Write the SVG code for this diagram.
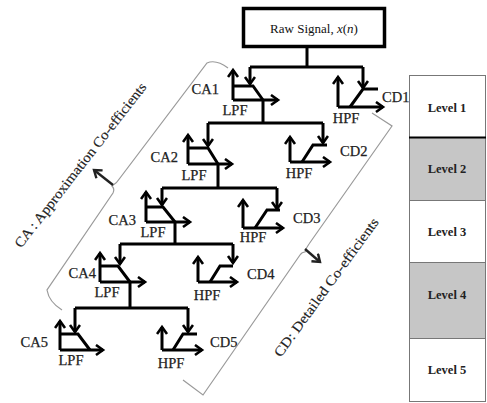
<svg xmlns="http://www.w3.org/2000/svg" width="487" height="403" viewBox="0 0 487 403">
<style>
.ln{fill:none;stroke:#000;stroke-width:3;stroke-linejoin:miter}
.ar{fill:none;stroke:#000;stroke-width:3;marker-end:url(#ah)}
.br{fill:none;stroke:#9a9a9a;stroke-width:1.2}
.t{font-family:"Liberation Serif","Times New Roman",serif;font-size:14.5px;fill:#222;stroke:#222;stroke-width:0.25}
.lv{font-family:"Liberation Serif","Times New Roman",serif;font-size:12.5px;font-weight:bold;fill:#222;text-anchor:middle}
.m{text-anchor:middle}
.e{text-anchor:end}
</style>
<defs>
<marker id="ah" markerUnits="userSpaceOnUse" markerWidth="14" markerHeight="14" refX="8" refY="6" orient="auto">
<path d="M1,1 L8,6 L1,11" fill="none" stroke="#000" stroke-width="2.6"/>
</marker>
<marker id="ahs" markerUnits="userSpaceOnUse" markerWidth="14" markerHeight="14" refX="8" refY="6" orient="auto">
<path d="M1,1 L8,6 L1,11" fill="none" stroke="#222" stroke-width="2.4"/>
</marker>
</defs>
<rect width="487" height="403" fill="#fff"/>

<g id="raw">
<rect x="243.5" y="8.5" width="141" height="38" fill="#fff" stroke="#000" stroke-width="3.5"/>
<text x="314" y="33" text-anchor="middle" style="font-family:'Liberation Serif','Times New Roman',serif;font-size:13px;fill:#111">Raw Signal, <tspan font-style="italic">x</tspan>(<tspan font-style="italic">n</tspan>)</text>
</g>

<g id="connectors">
<path class="ln" d="M307,47 V67 M250,67 H363"/>
<path class="ar" d="M250,67 V84"/>
<path class="ar" d="M363,67 V88"/>
<path class="ln" d="M263,100 V123 M208,123 H323"/>
<path class="ar" d="M208,123 V146"/>
<path class="ar" d="M323,123 V143"/>
<path class="ln" d="M218,164 V188 M162,188 H277"/>
<path class="ar" d="M162,188 V205"/>
<path class="ar" d="M277,188 V209"/>
<path class="ln" d="M175,222 V244 M120,244 H233"/>
<path class="ar" d="M120,244 V264"/>
<path class="ar" d="M233,244 V263"/>
<path class="ln" d="M130,282 V308 M75,308 H188"/>
<path class="ar" d="M75,308 V332"/>
<path class="ar" d="M188,308 V332"/>
</g>

<g id="lpf1">
<path class="ar" d="M233,100 V70"/><path class="ar" d="M233,100 H278"/>
<path class="ln" d="M233,86 H253 L263,100"/>
<text class="t m" x="235" y="115">LPF</text><text class="t e" x="219" y="94">CA1</text>
</g>
<g id="hpf1">
<path class="ar" d="M338,107 V77"/><path class="ar" d="M338,107 H383"/>
<path class="ln" d="M350,107 L363,89 H378"/>
<text class="t m" x="346" y="123">HPF</text><text class="t" x="382" y="102">CD1</text>
</g>

<g id="lpf2">
<path class="ar" d="M188,164 V135"/><path class="ar" d="M188,164 H232"/>
<path class="ln" d="M188,148 H208 L218,164"/>
<text class="t m" x="194" y="180">LPF</text><text class="t e" x="178" y="162">CA2</text>
</g>
<g id="hpf2">
<path class="ar" d="M290,162 V137"/><path class="ar" d="M290,162 H330"/>
<path class="ln" d="M302,162 L313,145 H327"/>
<text class="t m" x="299" y="178">HPF</text><text class="t" x="340" y="156">CD2</text>
</g>

<g id="lpf3">
<path class="ar" d="M146,222 V192"/><path class="ar" d="M146,222 H190"/>
<path class="ln" d="M146,207 H163 L175,222"/>
<text class="t m" x="153" y="237">LPF</text><text class="t e" x="136" y="225">CA3</text>
</g>
<g id="hpf3">
<path class="ar" d="M243,228 V200"/><path class="ar" d="M243,228 H283"/>
<path class="ln" d="M255,228 L267,210 H280"/>
<text class="t m" x="253" y="242">HPF</text><text class="t" x="293" y="223">CD3</text>
</g>

<g id="lpf4">
<path class="ar" d="M100,282 V253"/><path class="ar" d="M100,282 H145"/>
<path class="ln" d="M100,266 H118 L130,282"/>
<text class="t m" x="107" y="297">LPF</text><text class="t e" x="96" y="278">CA4</text>
</g>
<g id="hpf4">
<path class="ar" d="M198,282 V257"/><path class="ar" d="M198,282 H237"/>
<path class="ln" d="M210,282 L220,266 H233"/>
<text class="t m" x="207" y="300">HPF</text><text class="t" x="247" y="279">CD4</text>
</g>

<g id="lpf5">
<path class="ar" d="M60,350 V321"/><path class="ar" d="M60,350 H103"/>
<path class="ln" d="M60,334 H78 L90,350"/>
<text class="t m" x="71" y="365">LPF</text><text class="t e" x="48" y="347">CA5</text>
</g>
<g id="hpf5">
<path class="ar" d="M162,350 V327"/><path class="ar" d="M162,350 H202"/>
<path class="ln" d="M173,350 L183,334 H197"/>
<text class="t m" x="171" y="368">HPF</text><text class="t" x="210" y="347">CD5</text>
</g>

<g id="brace-ca">
<path class="br" d="M228,68 Q216,59 207,63 L120,178 Q117,183 112,186 Q115,189 113,193 L47,290 Q49,302 62,310"/>
<path d="M113,185 L94,170" fill="none" stroke="#222" stroke-width="2.4" marker-end="url(#ahs)"/>
<text class="t m" transform="translate(84,168) rotate(-52)" style="font-size:14px;stroke-width:0.15" textLength="205" lengthAdjust="spacingAndGlyphs">CA : Approximation Co-efficients</text>
</g>

<g id="brace-cd">
<path class="br" d="M372,113 L392,126 L309,244 Q306,248 305,252 Q302,252 300,255 L203,395 L183,380"/>
<path d="M305,249 L320,262" fill="none" stroke="#222" stroke-width="2.4" marker-end="url(#ahs)"/>
<text class="t m" transform="translate(330,290) rotate(-54)" style="font-size:14px;stroke-width:0.15" textLength="168" lengthAdjust="spacingAndGlyphs">CD: Detailed Co-efficients</text>
</g>

<g id="levels">
<rect x="409.5" y="75.5" width="76" height="62" fill="#fff" stroke="#777" stroke-width="1"/>
<rect x="409.5" y="137.5" width="76" height="63" fill="#c6c6c6" stroke="#777" stroke-width="1"/>
<rect x="409.5" y="200.5" width="76" height="62" fill="#fff" stroke="#777" stroke-width="1"/>
<rect x="409.5" y="262.5" width="76" height="76" fill="#c6c6c6" stroke="#777" stroke-width="1"/>
<rect x="409.5" y="338.5" width="76" height="63" fill="#fff" stroke="#777" stroke-width="1"/>
<path d="M409,137.5 H486" stroke="#000" stroke-width="2"/>
<text class="lv" x="447" y="112">Level 1</text>
<text class="lv" x="447" y="173">Level 2</text>
<text class="lv" x="447" y="236">Level 3</text>
<text class="lv" x="447" y="299">Level 4</text>
<text class="lv" x="447" y="374">Level 5</text>
</g>
</svg>
